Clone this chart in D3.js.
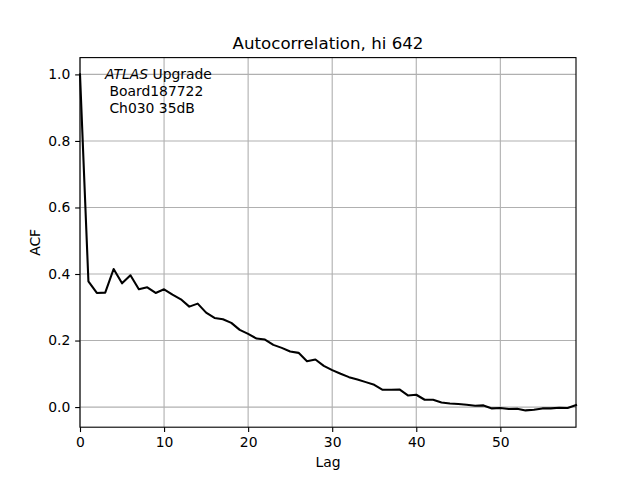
<!DOCTYPE html>
<html><head><meta charset="utf-8">
<script src="https://cdn.jsdelivr.net/npm/d3@7"></script>
<style>body{margin:0;background:#fff}svg{display:block}text{font-family:"DejaVu Sans",sans-serif;fill:#000}</style>
</head><body><svg id="c" width="640" height="480"></svg>
<script>
const lags = d3.range(0, 60);
const acf = [1.0, 0.378, 0.343, 0.344, 0.415, 0.372, 0.396, 0.354, 0.360, 0.343,
  0.354, 0.338, 0.324, 0.302, 0.311, 0.284, 0.268, 0.264, 0.253, 0.232,
  0.220, 0.206, 0.203, 0.187, 0.178, 0.167, 0.163, 0.138, 0.143, 0.124,
  0.111, 0.100, 0.090, 0.083, 0.075, 0.067, 0.052, 0.052, 0.053, 0.035,
  0.037, 0.022, 0.022, 0.014, 0.011, 0.009, 0.007, 0.004, 0.005, -0.004,
  -0.003, -0.006, -0.005, -0.010, -0.008, -0.004, -0.004, -0.002, -0.003, 0.006];
const xTicks = [0, 10, 20, 30, 40, 50];
const yTicks = [0.0, 0.2, 0.4, 0.6, 0.8, 1.0];
const titleText = "Autocorrelation, hi 642";
const xLabel = "Lag", yLabel = "ACF";

const svg = d3.select("#c");
const L = 80, R = 576, T = 57.6, B = 427.2;
const ymin = d3.min(acf), ymax = d3.max(acf), pad = (ymax - ymin) * 0.05;
const x = d3.scaleLinear().domain([0, 59]).range([L, R]);
const y = d3.scaleLinear().domain([ymin - pad, ymax + pad]).range([B, T]);

// grid
const g = svg.append("g");
g.selectAll(".gx").data(xTicks).join("line")
  .attr("x1", d => x(d)).attr("x2", d => x(d)).attr("y1", T).attr("y2", B)
  .attr("stroke", "#b0b0b0").attr("stroke-width", 1.11);
g.selectAll(".gy").data(yTicks).join("line")
  .attr("y1", d => y(d)).attr("y2", d => y(d)).attr("x1", L).attr("x2", R)
  .attr("stroke", "#b0b0b0").attr("stroke-width", 1.11);

// line
svg.append("path").datum(lags)
  .attr("d", d3.line().x(i => x(i)).y(i => y(acf[i])))
  .attr("fill", "none").attr("stroke", "#000").attr("stroke-width", 2.08)
  .attr("stroke-linejoin", "round").attr("stroke-linecap", "square");

// axes
const xa = svg.append("g").attr("transform", `translate(0,${B})`)
  .call(d3.axisBottom(x).tickValues(xTicks).tickFormat(d3.format("d")).tickSize(4.86).tickPadding(4.86));
const ya = svg.append("g").attr("transform", `translate(${L},0)`)
  .call(d3.axisLeft(y).tickValues(yTicks).tickFormat(d3.format(".1f")).tickSize(4.86).tickPadding(4.86));
[xa, ya].forEach(a => {
  a.select(".domain").remove();
  a.selectAll("line").attr("stroke", "#000").attr("stroke-width", 1.11);
  a.selectAll("text").attr("font-size", 13.9).attr("font-family", "DejaVu Sans").attr("fill", "#000");
});

// spines
svg.append("rect").attr("x", L).attr("y", T).attr("width", R - L).attr("height", B - T)
  .attr("fill", "none").attr("stroke", "#000").attr("stroke-width", 1.11);

// labels
svg.append("text").attr("x", (L + R) / 2).attr("y", 49).attr("text-anchor", "middle")
  .attr("font-size", 16.67).text(titleText);
svg.append("text").attr("x", (L + R) / 2).attr("y", 467).attr("text-anchor", "middle")
  .attr("font-size", 13.9).text(xLabel);
svg.append("text").attr("transform", `translate(40,${(T + B) / 2}) rotate(-90)`)
  .attr("text-anchor", "middle").attr("font-size", 13.9).text(yLabel);

// annotation
const ann = svg.append("text").attr("font-size", 13.9);
const l1 = ann.append("tspan").attr("x", 105).attr("y", 79);
l1.append("tspan").attr("font-style", "italic").text("ATLAS");
l1.append("tspan").text(" Upgrade");
ann.append("tspan").attr("x", 105).attr("y", 96).attr("xml:space", "preserve").style("white-space", "pre").text(" Board187722");
ann.append("tspan").attr("x", 105).attr("y", 112.6).style("white-space", "pre").text(" Ch030 35dB");
</script></body></html>
